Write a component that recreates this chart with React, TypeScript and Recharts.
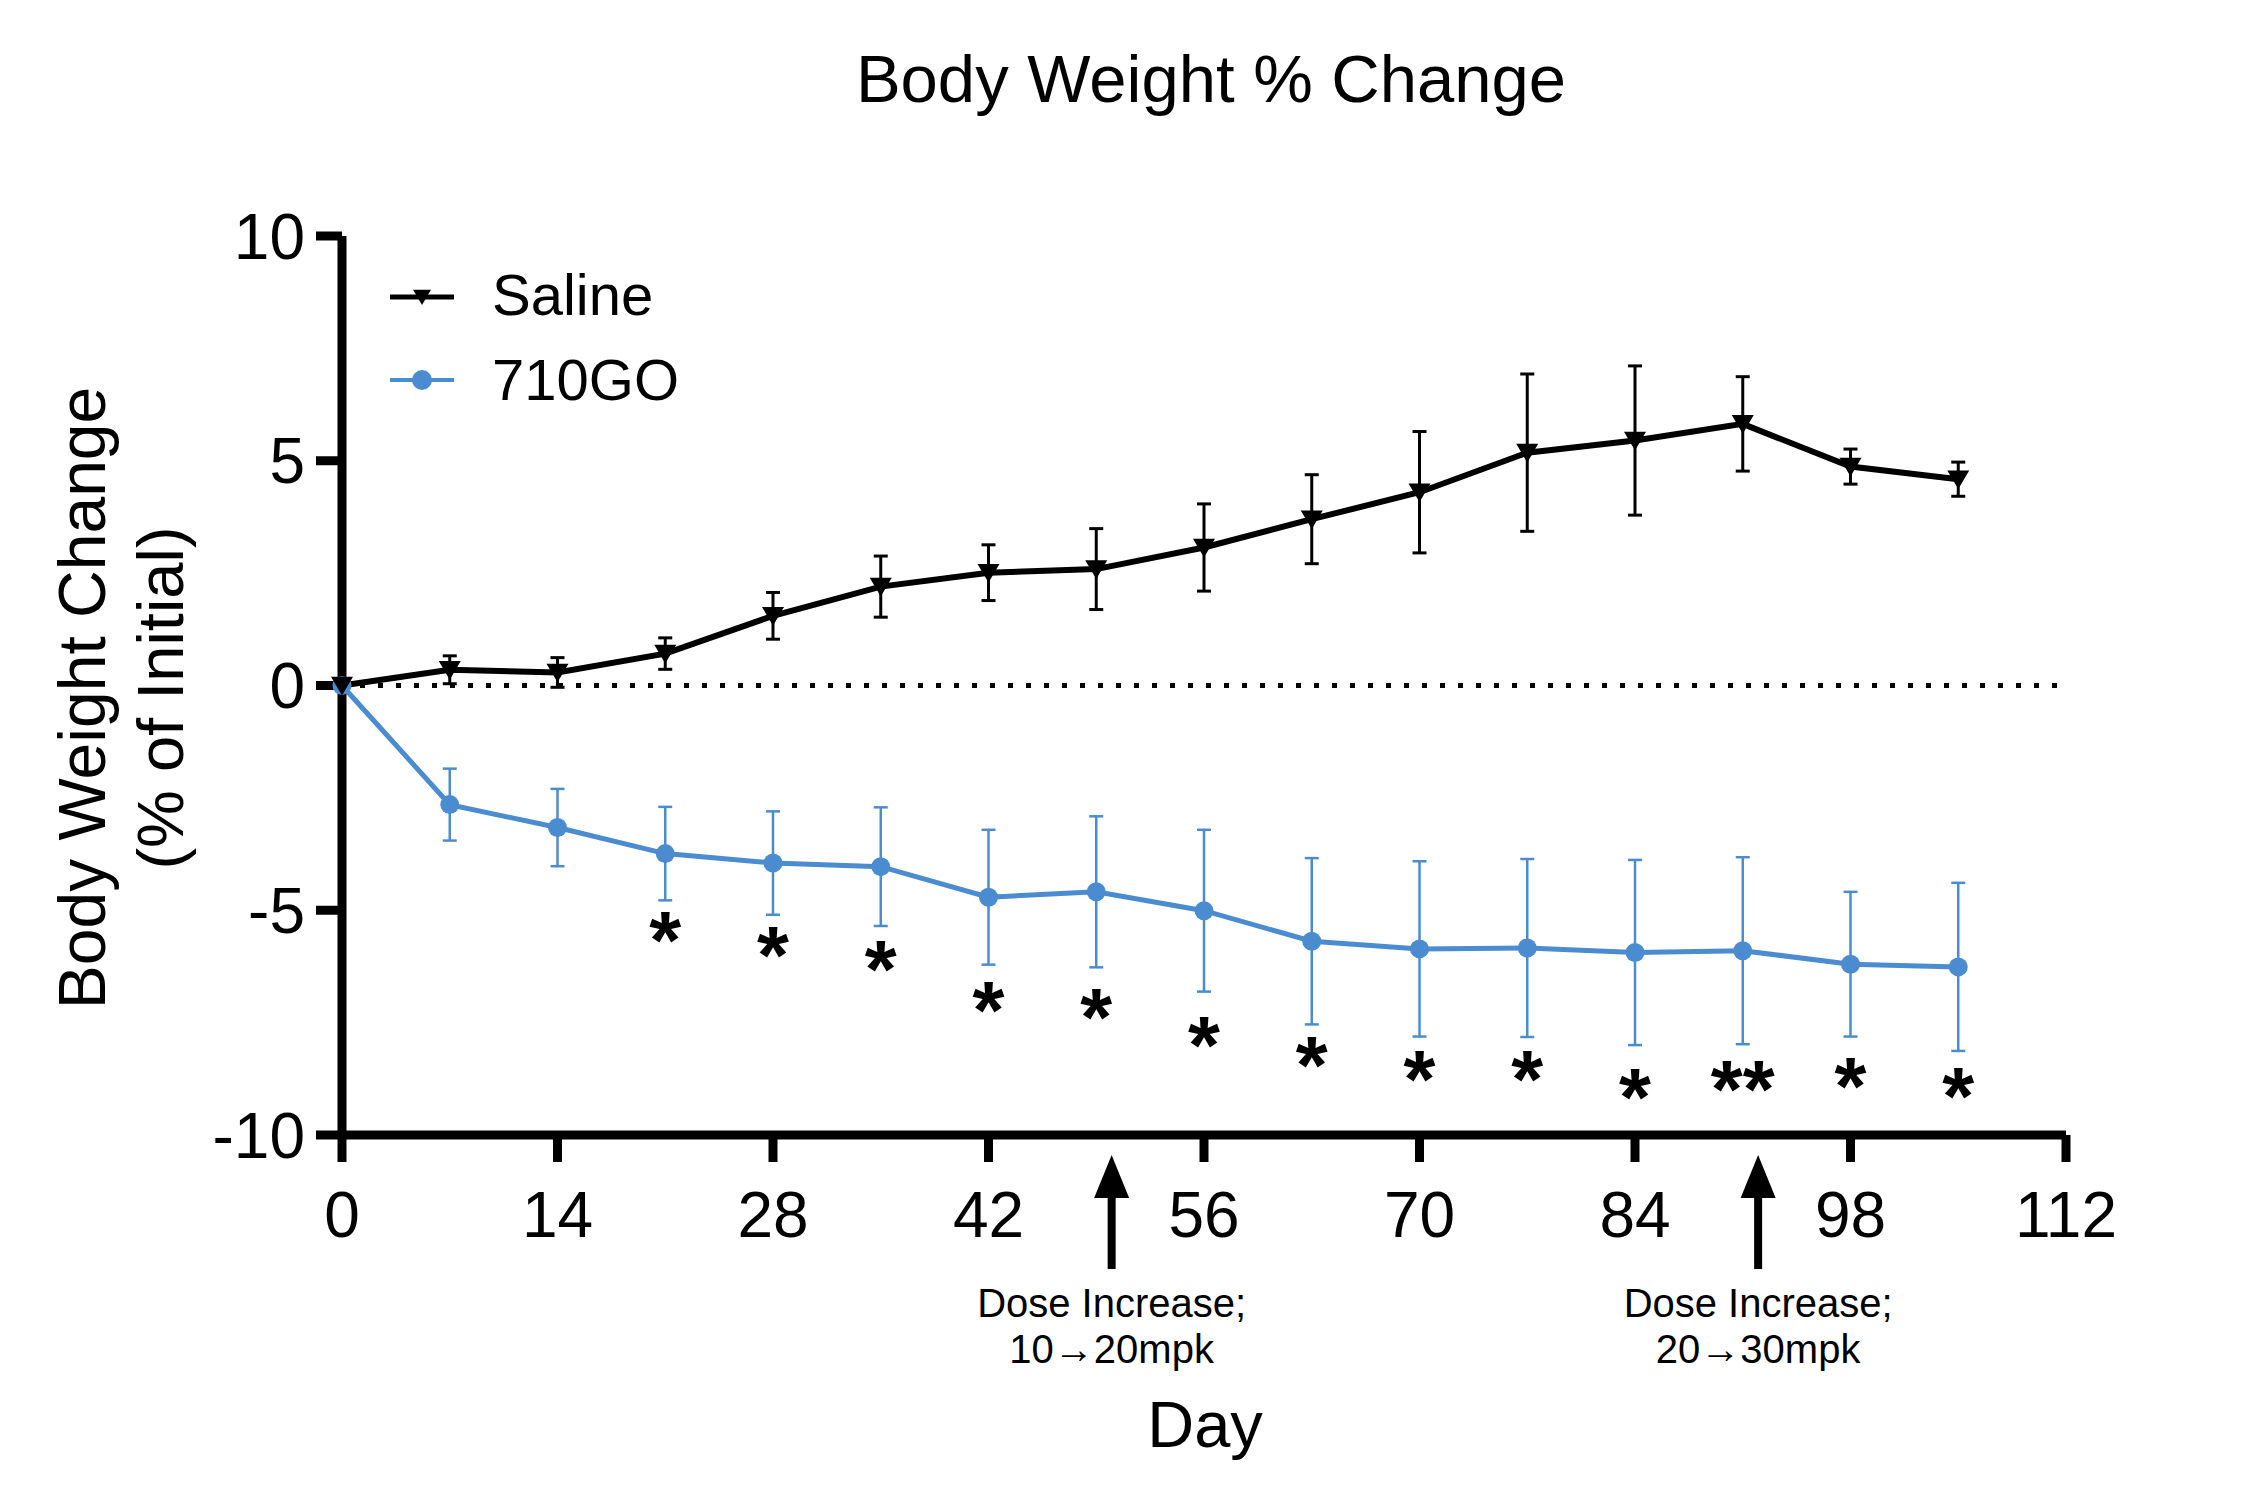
import React from "react";
import {
  ComposedChart,
  Line,
  ErrorBar,
  XAxis,
  YAxis,
  ReferenceLine,
  Scatter,
} from "recharts";

// ---------------------------------------------------------------
// Body weight % change, mean ± SEM
// ---------------------------------------------------------------
const days = [0, 7, 14, 21, 28, 35, 42, 49, 56, 63, 70, 77, 84, 91, 98, 105];
const salineMean = [0, 0.35, 0.29, 0.71, 1.55, 2.2, 2.51, 2.59, 3.07, 3.7, 4.3, 5.18, 5.45, 5.82, 4.87, 4.59];
const salineSem = [0, 0.31, 0.33, 0.35, 0.52, 0.68, 0.62, 0.9, 0.97, 0.99, 1.35, 1.75, 1.66, 1.05, 0.39, 0.38];
const goMean = [0, -2.65, -3.16, -3.74, -3.95, -4.03, -4.71, -4.59, -5.01, -5.69, -5.86, -5.84, -5.94, -5.9, -6.2, -6.26];
const goSem = [0, 0.8, 0.86, 1.04, 1.15, 1.32, 1.5, 1.68, 1.8, 1.85, 1.95, 1.98, 2.06, 2.08, 1.61, 1.87];

// significance marks under the 710GO series
const sigDays = [21, 28, 35, 42, 49, 56, 63, 70, 77, 84, 91, 98, 105];
const sigLevel = [-5.42, -5.74, -6.06, -6.97, -7.14, -7.76, -8.2, -8.5, -8.52, -8.9, -8.74, -8.67, -8.88];
const sigMarks = ["*", "*", "*", "*", "*", "*", "*", "*", "*", "*", "**", "*", "*"];

// dose-change annotations below the x axis
const doseDays = [50, 92];
const doseNotes = [
  ["Dose Increase;", "10\u219220mpk"],
  ["Dose Increase;", "20\u219230mpk"],
];

const xTicks = [0, 14, 28, 42, 56, 70, 84, 98, 112];
const yTicks = [-10, -5, 0, 5, 10];
const yDomain = [-10, 10];

const BLUE = "#4a8ccf";
const FONT = '"Liberation Sans", Arial, Helvetica, sans-serif';

const rows = days.map((day, i) => ({
  day,
  saline: salineMean[i],
  salineErr: salineSem[i],
  go: goMean[i],
  goErr: goSem[i],
}));

const sigRows = sigDays.map((day, i) => ({ day, level: sigLevel[i], mark: sigMarks[i] }));
const doseRows = doseDays.map((day, i) => ({ day, level: yDomain[0], note: doseNotes[i] }));

const triangle = (cx: number, cy: number, s: number) =>
  `M${cx - s},${cy - s * 0.8} L${cx + s},${cy - s * 0.8} L${cx},${cy + s * 0.9} Z`;

const SalineDot = (props: any) => {
  const { cx, cy, index } = props;
  if (cx == null || cy == null) return null;
  return <path key={`s-${index}`} d={triangle(cx, cy, 11)} fill="#000" />;
};

const GoDot = (props: any) => {
  const { cx, cy, index } = props;
  if (cx == null || cy == null) return null;
  return <circle key={`g-${index}`} cx={cx} cy={cy} r={9.5} fill={BLUE} />;
};

const SigShape = (props: any) => {
  const { cx, cy, payload } = props;
  return (
    <text
      x={cx}
      y={cy + 39}
      textAnchor="middle"
      fontFamily={FONT}
      fontWeight="bold"
      fontSize={82}
      fill="#000"
    >
      {payload.mark}
    </text>
  );
};

const DoseShape = (props: any) => {
  const { cx, cy, payload } = props;
  return (
    <g>
      <path d={`M${cx},${cy + 20} L${cx + 17.5},${cy + 63} L${cx - 17.5},${cy + 63} Z`} fill="#000" />
      <rect x={cx - 4} y={cy + 58} width={8} height={76} fill="#000" />
      <text x={cx} y={cy + 182} textAnchor="middle" fontFamily={FONT} fontSize={40} fill="#000">
        {payload.note[0]}
      </text>
      <text x={cx} y={cy + 228} textAnchor="middle" fontFamily={FONT} fontSize={40} fill="#000">
        {payload.note[1]}
      </text>
    </g>
  );
};

const tickStyle = { fontFamily: FONT, fontSize: 64, fill: "#000" };

export default function App() {
  return (
    <div style={{ position: "absolute", left: 0, top: 0, width: 2265, height: 1505, background: "#fff" }}>
      <ComposedChart
        width={2265}
        height={1505}
        data={rows}
        margin={{ top: 236, right: 199, bottom: 270, left: 0 }}
      >
        <XAxis
          dataKey="day"
          type="number"
          domain={[0, 112]}
          ticks={xTicks}
          height={100}
          axisLine={{ stroke: "#000", strokeWidth: 9 }}
          tickLine={{ stroke: "#000", strokeWidth: 9 }}
          tickSize={27}
          tickMargin={30}
          tick={tickStyle}
          interval={0}
        />
        <YAxis
          type="number"
          domain={yDomain}
          ticks={yTicks}
          width={342}
          axisLine={{ stroke: "#000", strokeWidth: 9 }}
          tickLine={{ stroke: "#000", strokeWidth: 9 }}
          tickSize={26}
          tickMargin={11}
          tick={tickStyle}
          interval={0}
        />
        <ReferenceLine y={0} stroke="#000" strokeWidth={5} strokeDasharray="5 13" />
        <Line
          dataKey="go"
          stroke={BLUE}
          strokeWidth={5}
          dot={GoDot}
          activeDot={false}
          isAnimationActive={false}
        >
          <ErrorBar dataKey="goErr" width={7} strokeWidth={2.5} stroke={BLUE} direction="y" isAnimationActive={false} />
        </Line>
        <Line
          dataKey="saline"
          stroke="#000"
          strokeWidth={6}
          dot={SalineDot}
          activeDot={false}
          isAnimationActive={false}
        >
          <ErrorBar dataKey="salineErr" width={7} strokeWidth={3} stroke="#000" direction="y" isAnimationActive={false} />
        </Line>
        <Scatter data={sigRows} dataKey="level" shape={SigShape} isAnimationActive={false} />
        <Scatter data={doseRows} dataKey="level" shape={DoseShape} isAnimationActive={false} />
      </ComposedChart>

      {/* title, axis titles and legend */}
      <svg
        width={2265}
        height={1505}
        style={{ position: "absolute", left: 0, top: 0, pointerEvents: "none" }}
      >
        <text x={1211} y={102} textAnchor="middle" fontFamily={FONT} fontSize={67} fill="#000">
          Body Weight % Change
        </text>
        <text x={1205} y={1447} textAnchor="middle" fontFamily={FONT} fontSize={65} fill="#000">
          Day
        </text>
        <text
          x={105}
          y={698}
          transform="rotate(-90 105 698)"
          textAnchor="middle"
          fontFamily={FONT}
          fontSize={66}
          fill="#000"
        >
          Body Weight Change
        </text>
        <text
          x={183}
          y={698}
          transform="rotate(-90 183 698)"
          textAnchor="middle"
          fontFamily={FONT}
          fontSize={65}
          fill="#000"
        >
          (% of Initial)
        </text>

        <line x1={390} y1={297} x2={454} y2={297} stroke="#000" strokeWidth={5} />
        <path d={triangle(422, 297, 9)} fill="#000" />
        <text x={492} y={315} fontFamily={FONT} fontSize={58} fill="#000">
          Saline
        </text>
        <line x1={390} y1={380} x2={454} y2={380} stroke={BLUE} strokeWidth={4} />
        <circle cx={422} cy={380} r={10} fill={BLUE} />
        <text x={492} y={400} fontFamily={FONT} fontSize={58} fill="#000">
          710GO
        </text>
      </svg>
    </div>
  );
}
